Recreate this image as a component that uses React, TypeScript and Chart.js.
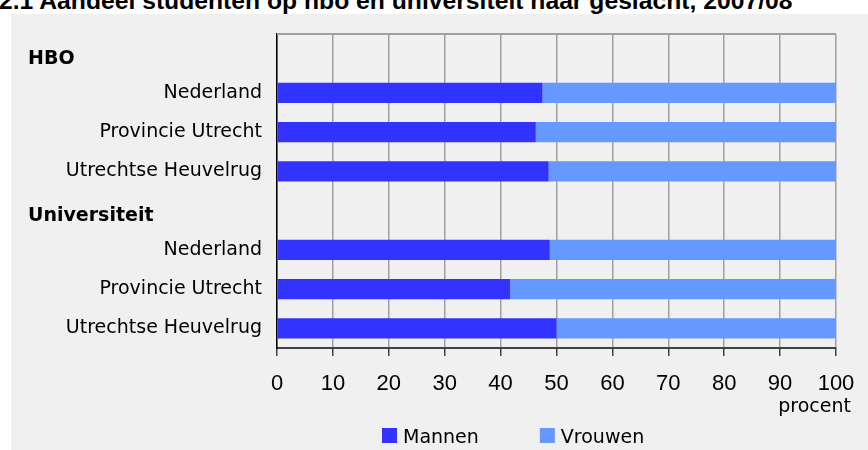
import React, { useEffect, useRef } from "react";
import { Chart, registerables } from "chart.js";

Chart.register(...registerables);

const titleText = "2.1 Aandeel studenten op hbo en universiteit naar geslacht, 2007/08";
const categories = [
  "HBO",
  "Nederland",
  "Provincie Utrecht",
  "Utrechtse Heuvelrug",
  "Universiteit",
  "Nederland",
  "Provincie Utrecht",
  "Utrechtse Heuvelrug",
];
const headerRows = [true, false, false, false, true, false, false, false];
const mannen = [null, 47.5, 46.3, 48.6, null, 48.8, 41.7, 50.0];
const vrouwen = [null, 52.5, 53.7, 51.4, null, 51.2, 58.3, 50.0];
const seriesNames = ["Mannen", "Vrouwen"];
const seriesColors = ["#3333ff", "#6699ff"];
const unitLabel = "procent";

const FONT = '"DejaVu Sans", sans-serif';

const extrasPlugin = {
  id: "extras",
  afterDraw(chart: any) {
    const { ctx, chartArea, scales } = chart;
    const y = scales.y;
    ctx.save();
    // top border of plot
    ctx.strokeStyle = "#a0a0a0";
    ctx.lineWidth = 2;
    ctx.beginPath();
    ctx.moveTo(chartArea.left, chartArea.top);
    ctx.lineTo(chartArea.right, chartArea.top);
    ctx.stroke();

    // group headers
    ctx.font = "bold 19px " + FONT;
    ctx.fillStyle = "#000";
    ctx.textAlign = "left";
    ctx.textBaseline = "middle";
    categories.forEach((c, i) => {
      if (headerRows[i]) ctx.fillText(c, 28, y.getPixelForValue(i) + 5);
    });

    // unit label
    ctx.font = "19px " + FONT;
    ctx.textAlign = "right";
    ctx.textBaseline = "alphabetic";
    ctx.fillText(unitLabel, 851, 412);

    // legend
    ctx.textAlign = "left";
    let x = 382;
    chart.data.datasets.forEach((ds: any) => {
      ctx.fillStyle = ds.backgroundColor;
      ctx.fillRect(x, 428, 15, 15);
      ctx.fillStyle = "#000";
      ctx.fillText(ds.label, x + 21, 443);
      x += 21 + ctx.measureText(ds.label).width + 61;
    });
    ctx.restore();
  },
};

export default function App() {
  const ref = useRef<HTMLCanvasElement>(null);
  useEffect(() => {
    if (!ref.current) return;
    const chart = new Chart(ref.current, {
      type: "bar",
      data: {
        labels: categories,
        datasets: [
          { label: seriesNames[0], data: mannen, backgroundColor: seriesColors[0], barPercentage: 0.51, categoryPercentage: 1 },
          { label: seriesNames[1], data: vrouwen, backgroundColor: seriesColors[1], barPercentage: 0.51, categoryPercentage: 1 },
        ],
      },
      options: {
        indexAxis: "y",
        animation: false,
        responsive: false,
        maintainAspectRatio: false,
        layout: { padding: { top: 34, right: 32, left: 0, bottom: 0 } },
        plugins: { legend: { display: false }, tooltip: { enabled: false }, title: { display: false } },
        scales: {
          x: {
            stacked: true,
            min: 0,
            max: 100,
            ticks: {
              stepSize: 10,
              color: "#000",
              font: { family: '"Liberation Sans", Arial, sans-serif', size: 22, lineHeight: 2.35 },
              padding: 2,
              maxRotation: 0,
            },
            grid: { color: "#a0a0a0", lineWidth: 1.5, tickColor: "#404040", tickLength: 8, tickWidth: 1.5 },
            border: { color: "#404040", width: 2 },
            afterFit: (scale: any) => { scale.height = 102; },
          },
          y: {
            stacked: true,
            ticks: {
              color: "#000",
              font: { family: FONT, size: 19 },
              padding: 7,
              autoSkip: false,
              callback: (_v: any, i: number) => (headerRows[i] ? "" : categories[i]),
            },
            grid: { display: false },
            border: { color: "#000", width: 1.5 },
            afterFit: (scale: any) => { scale.width = 277; },
          },
        },
      },
      plugins: [extrasPlugin],
    });
    return () => chart.destroy();
  }, []);

  return (
    <div style={{ position: "fixed", left: 0, top: 0, width: 868, height: 450, background: "#fff", overflow: "hidden" }}>
      <div style={{ position: "absolute", left: 11, top: 14, right: 0, bottom: 0, background: "#f0f0f0" }} />
      <div
        style={{
          position: "absolute",
          left: -1,
          top: -11,
          whiteSpace: "nowrap",
          font: 'bold 24.7px/24px "Liberation Sans", Arial, sans-serif',
          color: "#000",
        }}
      >
        {titleText}
      </div>
      <canvas ref={ref} width={868} height={450} style={{ position: "absolute", left: 0, top: 0 }} />
    </div>
  );
}
